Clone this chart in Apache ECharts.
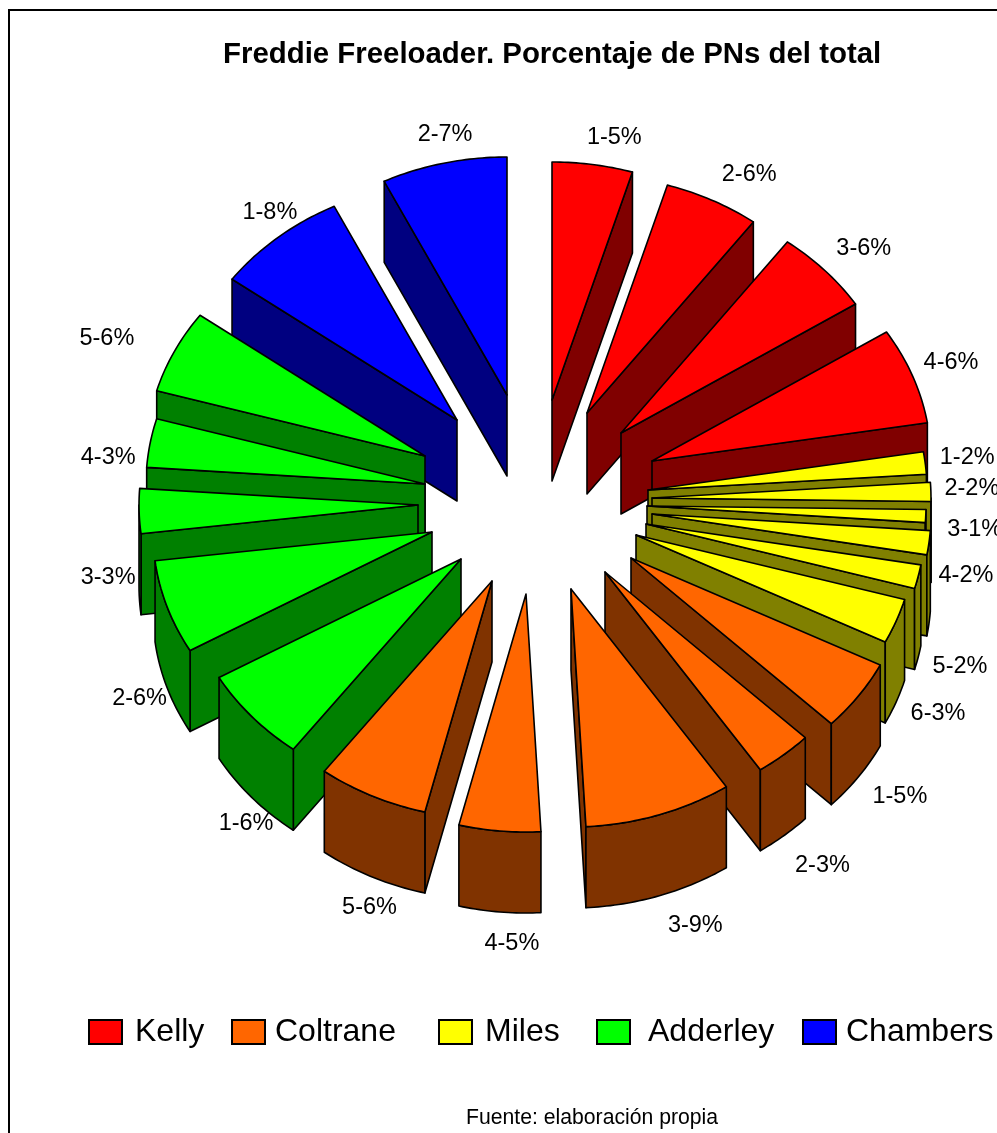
<!DOCTYPE html>
<html><head><meta charset="utf-8">
<style>html,body{margin:0;padding:0;background:#fff}#c{width:997px;height:1133px}</style>
<script src="https://cdn.jsdelivr.net/npm/echarts@6/dist/echarts.min.js"></script>
</head><body><div id="c"></div>
<script>
const kellyValues    = [5.4, 6.0, 5.6, 5.8];
const milesValues    = [1.3, 1.1, 0.75, 1.4, 1.4, 2.7];
const coltraneValues = [4.55, 3.4, 9.6, 5.5, 7.0];
const adderleyValues = [6.25, 5.6, 2.6, 2.85, 5.1];
const chambersValues = [7.8, 8.3];
const kellyLabels    = ['1-5%','2-6%','3-6%','4-6%'];
const milesLabels    = ['1-2%','2-2%','3-1%','4-2%','5-2%','6-3%'];
const coltraneLabels = ['1-5%','2-3%','3-9%','4-5%','5-6%'];
const adderleyLabels = ['1-6%','2-6%','3-3%','4-3%','5-6%'];
const chambersLabels = ['1-8%','2-7%'];
const legendOrder = ['Kelly','Coltrane','Miles','Adderley','Chambers'];

// Drawing layout: explosion of each slice from the pie centre, and label offsets from its rim
const CX = 532, CY = 497, RX = 279, RY = 238, DEPTH = 81;
const groups = [
  {name:'Kelly',    values:kellyValues,    labels:kellyLabels,    top:'#ff0000', side:'#800000',
   explode:[[20,-97],[55,-84],[89,-64],[120,-36]], off:[[22,-27],[38,-25],[40,-21],[39,-12]]},
  {name:'Miles',    values:milesValues,    labels:milesLabels,    top:'#ffff00', side:'#808000',
   explode:[[116,-7],[120,1],[115,9],[120,17],[114,27],[104,38]], off:[[42,-5],[41,-3],[49,13],[37,33],[42,90],[42,92]]},
  {name:'Coltrane', values:coltraneValues, labels:coltraneLabels, top:'#ff6600', side:'#803300',
   explode:[[99,61],[73,75],[39,92],[-6,97],[-40,84]], off:[[42,100],[39,111],[38,110],[12,113],[-4,111]]},
  {name:'Adderley', values:adderleyValues, labels:adderleyLabels, top:'#00ff00', side:'#008000',
   explode:[[-71,62],[-100,35],[-114,8],[-107,-13],[-107,-41]], off:[[-7,106],[-28,91],[-31,66],[-42,15],[-68,-12]]},
  {name:'Chambers', values:chambersValues, labels:chambersLabels, top:'#0000ff', side:'#000080',
   explode:[[-75,-77],[-25,-102]], off:[[-10,-24],[0,-28]]}
];
const legendLeft = {Kelly:88, Coltrane:231, Miles:438, Adderley:596, Chambers:802};
const legendPad  = {Kelly:8, Coltrane:5, Miles:8, Adderley:13, Chambers:5};

const total = groups.reduce((s,g)=>s+g.values.reduce((a,b)=>a+b,0),0);
const rad = d => d*Math.PI/180;
const rim = d => {
  const s=Math.sin(rad(d)), c=Math.cos(rad(d));
  const r = RX*RY/Math.sqrt(Math.pow(RY*s,2)+Math.pow(RX*c,2));
  return [r*s, -r*c];
};
const stroke = {stroke:'#000', lineWidth:1.6, lineJoin:'round'};

function makeRender(g){
  return function(params, api){
    const a0 = api.value(0)/total*360, a1 = api.value(1)/total*360, i = api.value(2);
    const mid = (a0+a1)/2, e = g.explode[i];
    const ax = CX + e[0], ay = CY + e[1];
    const at = d => { const p = rim(d); return [ax+p[0], ay+p[1]]; };
    const down = p => [p[0], p[1]+DEPTH];
    const base = 2000 + Math.round(-Math.cos(rad(mid))*300)*4;
    const poly = (pts, fill, z) => ({type:'polygon', z2:base+z, shape:{points:pts},
                                     style:Object.assign({fill}, stroke)});
    const kids = [];
    const apex = [ax, ay];
    if (a1 > 0 && a1 < 180) { const p = at(a1); kids.push(poly([apex,p,down(p),down(apex)], g.side, 0)); }
    if (a0 > 180 && a0 < 360) { const p = at(a0); kids.push(poly([apex,p,down(p),down(apex)], g.side, 0)); }
    const lo = Math.max(a0, 90), hi = Math.min(a1, 270);
    if (hi > lo) {
      const upper = [];
      const n = Math.max(2, Math.ceil(hi-lo));
      for (let k=0;k<=n;k++) upper.push(at(lo+(hi-lo)*k/n));
      kids.push(poly(upper.concat(upper.slice().reverse().map(down)), g.side, 1));
    }
    const arc = [apex];
    const m = Math.max(2, Math.ceil(a1-a0));
    for (let k=0;k<=m;k++) arc.push(at(a0+(a1-a0)*k/m));
    kids.push(poly(arc, g.top, 2));
    const anchor = at(mid);
    kids.push({type:'text', z2:9000, style:{
      text:g.labels[i], x:anchor[0]+g.off[i][0], y:anchor[1]+g.off[i][1],
      fill:'#000', font:'23.5px "Liberation Sans", Arial, sans-serif',
      align:'center', verticalAlign:'middle'}});
    return {type:'group', children:kids};
  };
}

let cum = 0;
const series = groups.map(g=>{
  const data = g.values.map((v,i)=>{ const d=[cum,cum+v,i]; cum+=v; return d; });
  return {type:'custom', name:g.name, coordinateSystem:'none', data,
          itemStyle:{color:g.top}, renderItem:makeRender(g), animation:false, silent:true};
});

const chart = echarts.init(document.getElementById('c'));
chart.setOption({
  animation:false,
  backgroundColor:'#fff',
  title:[
    {text:'Freddie Freeloader. Porcentaje de PNs del total', left:223, top:40, padding:0,
     textStyle:{fontFamily:'"Liberation Sans", Arial, sans-serif', fontWeight:'bold', fontSize:29.4, color:'#000'}},
    {text:'Fuente: elaboración propia', left:466, top:1108, padding:0,
     textStyle:{fontFamily:'"Liberation Sans", Arial, sans-serif', fontWeight:'normal', fontSize:21.2, color:'#000'}}
  ],
  legend:legendOrder.map(n=>({
    data:[n], left:legendLeft[n], top:1016, padding:0, icon:'rect', itemWidth:33, itemHeight:24,
    selectedMode:false, itemStyle:{borderColor:'#000', borderWidth:2},
    textStyle:{fontFamily:'"Liberation Sans", Arial, sans-serif', fontSize:32, color:'#000',
               padding:[3,0,0,legendPad[n]]}
  })),
  graphic:[{type:'rect', silent:true, z:-1, shape:{x:9,y:10,width:1200,height:1300},
            style:{fill:'none', stroke:'#000', lineWidth:2}}],
  series
});
</script></body></html>
